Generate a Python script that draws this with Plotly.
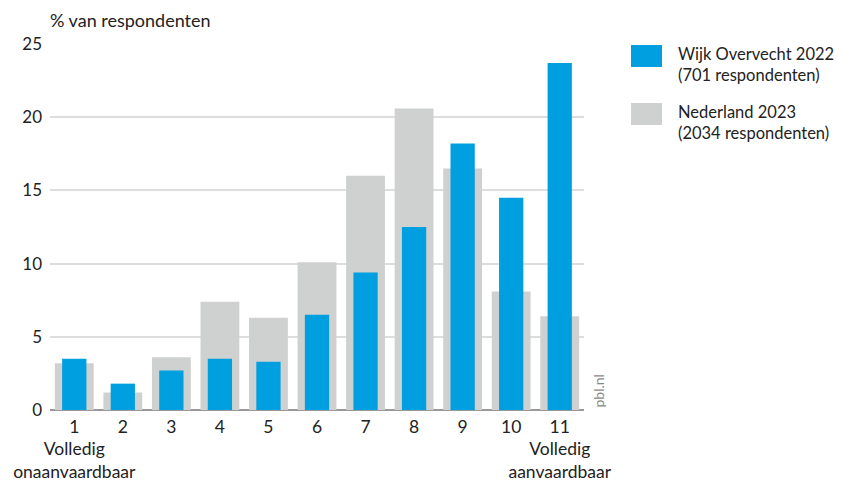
import plotly.graph_objects as go

categories = ["1<br>Volledig<br>onaanvaardbaar", "2", "3", "4", "5", "6", "7", "8", "9", "10",
              "11<br>Volledig<br>aanvaardbaar"]
overvecht_2022 = [3.5, 1.8, 2.7, 3.5, 3.3, 6.5, 9.4, 12.5, 18.2, 14.5, 23.7]
nederland_2023 = [3.2, 1.2, 3.6, 7.4, 6.3, 10.1, 16.0, 20.6, 16.5, 8.1, 6.4]
y_ticks = [0, 5, 10, 15, 20, 25]

BLUE = "#009fdf"
GRAY = "#cfd0d0"
FONT = "Lato"
TXT = "#222222"

fig = go.Figure()
fig.add_trace(go.Bar(x=categories, y=nederland_2023, name="Nederland 2023",
                     marker=dict(color=GRAY, line=dict(width=0)), width=0.8))
fig.add_trace(go.Bar(x=categories, y=overvecht_2022, name="Wijk Overvecht 2022",
                     marker=dict(color=BLUE, line=dict(width=0)), width=0.5))

# page has an 8px body margin, so the figure is sized/offset accordingly
fig.update_layout(
    width=835, height=475,
    margin=dict(l=42, r=259, t=36, b=73),
    barmode="overlay",
    plot_bgcolor="white", paper_bgcolor="white",
    showlegend=False,
    font=dict(family=FONT, size=16, color=TXT),
    xaxis=dict(type="category", range=[-0.5, 10.5], showgrid=False, ticks="",
               tickangle=0, automargin=False, ticklabelstandoff=4,
               tickfont=dict(size=17.5, color=TXT), showline=False),
    yaxis=dict(range=[0, 25], tickvals=y_ticks, showgrid=True, gridcolor="#dddddd",
               gridwidth=1.5, zeroline=True, zerolinecolor="#999999", zerolinewidth=1.5,
               automargin=False,
               ticks="", ticklabelstandoff=7, tickfont=dict(size=17, color=TXT)),
)

# axis title
fig.add_annotation(text="% van respondenten", xref="paper", yref="paper", x=-0.004, y=1.066,
                   xanchor="left", yanchor="middle", showarrow=False,
                   font=dict(size=18, color=TXT))

# manual legend (page pixel -> paper coords)
def px_x(p):
    return (p - 50) / 534

def px_y(p):
    return (410 - p) / 366

legend_items = [(BLUE, "Wijk Overvecht 2022<br>(701 respondenten)", 45, 67),
                (GRAY, "Nederland 2023<br>(2034 respondenten)", 103, 125)]
for color, label, y0, y1 in legend_items:
    fig.add_shape(type="rect", xref="paper", yref="paper",
                  x0=px_x(631), x1=px_x(662), y0=px_y(y1), y1=px_y(y0),
                  fillcolor=color, line=dict(width=0))
    fig.add_annotation(text=label, xref="paper", yref="paper", x=px_x(676), y=px_y(y0 - 3),
                       xanchor="left", yanchor="top", align="left", showarrow=False,
                       font=dict(size=16.5, color=TXT))

fig.add_annotation(text="pbl.nl", xref="paper", yref="paper", x=px_x(598), y=0.0,
                   xanchor="center", yanchor="bottom", textangle=-90, showarrow=False,
                   font=dict(size=14, color="#888888"))

fig.write_html("out.html")
